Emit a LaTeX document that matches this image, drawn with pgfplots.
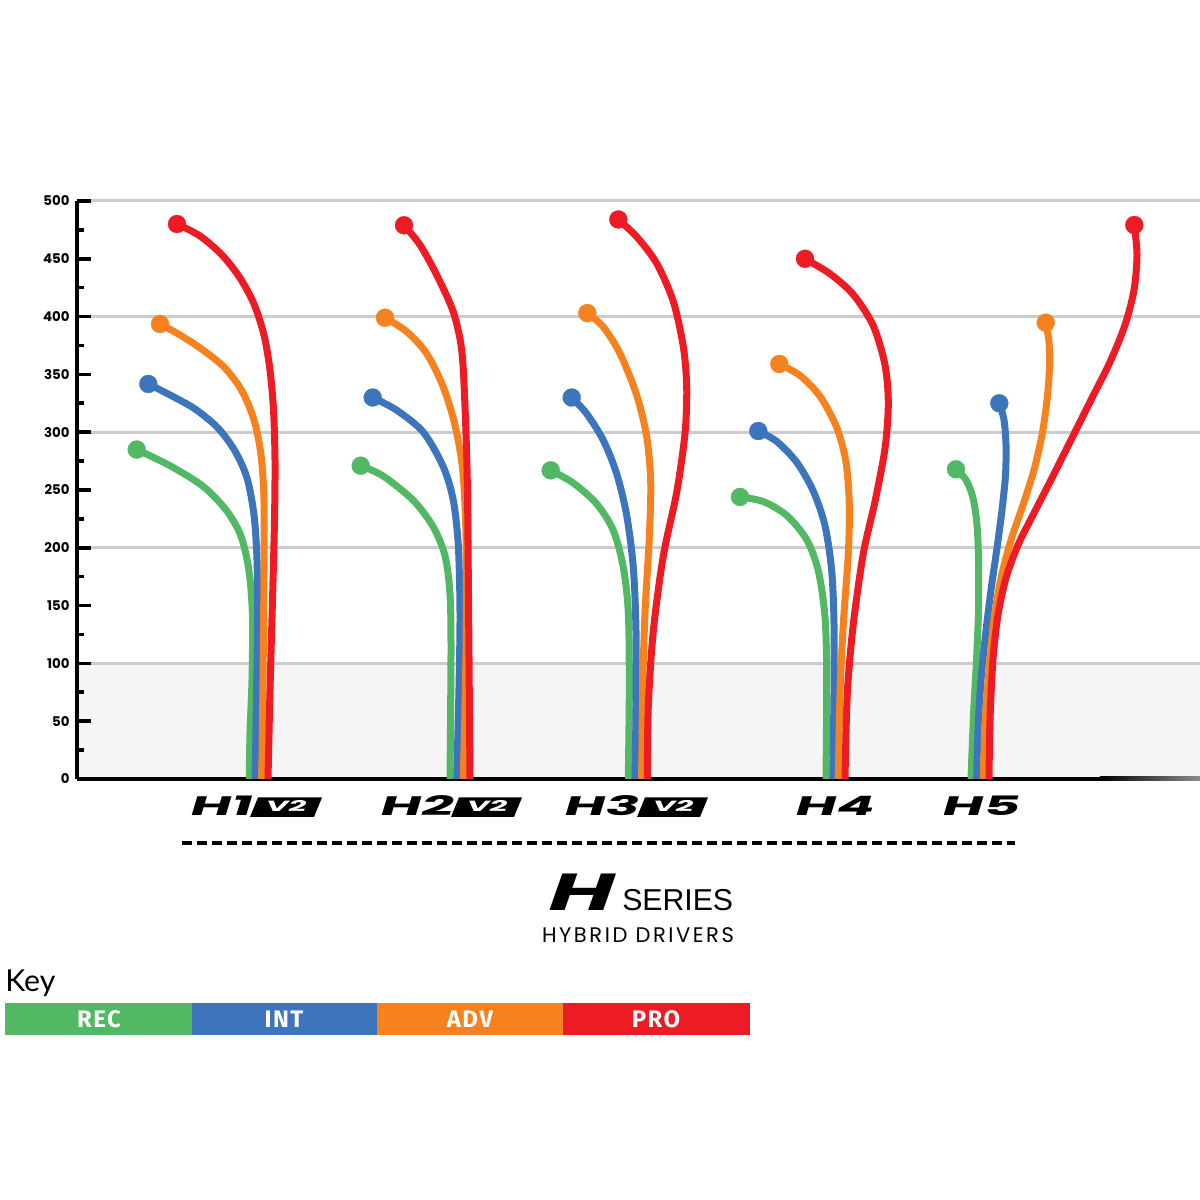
\documentclass[border=0pt]{standalone}
\usepackage{pgfplots}
\pgfplotsset{compat=1.18}
\usepackage{fontspec}
\setmainfont{Liberation Sans}
\newfontfamily\numfont{Poppins}
\newfontfamily\hfont{Poppins}[FakeSlant=0.3, FakeStretch=2.1]
\newfontfamily\bighfont{Poppins}[FakeSlant=0.35, FakeStretch=1.7]
\newfontfamily\keyfont{Fira Sans}
\newfontfamily\titlefont{Lato}

\definecolor{rec}{HTML}{52B864}
\definecolor{int}{HTML}{3D75BC}
\definecolor{adv}{HTML}{F5821F}
\definecolor{pro}{HTML}{ED1C24}

\begin{document}
\begin{tikzpicture}
\begin{axis}[
  at={(19.25mm,105.25mm)}, anchor=south west,
  scale only axis, width=280.75mm, height=144.5mm,
  xmin=77, xmax=1200, ymin=0, ymax=500,
  set layers,
  axis x line*=bottom, axis y line*=left,
  axis line style={black, line width=1mm},
  xtick=\empty,
  ytick={0,100,...,500},
  extra y ticks={50,150,...,450},
  extra y tick style={grid=none},
  minor ytick={25,75,...,475},
  ymajorgrids,
  grid style={black!20, line width=0.75mm},
  tick align=inside,
  major tick length=3.5mm, minor tick length=1.8mm,
  tick style={black, line width=0.9mm},
  /pgf/number format/assume math mode=true,
  yticklabel style={font=\numfont\bfseries\fontsize{9.5}{9.5}\selectfont, inner sep=0pt, xshift=-1.8mm},
  every axis plot/.append style={line width=1.75mm, smooth, line cap=round,
    mark=*, mark indices={1}, mark size=2.25mm, mark options={line width=0.2pt}},
]
\begin{pgfonlayer}{axis background}
  \fill[black!4] (axis cs:77,0) rectangle (axis cs:1200,100);
\end{pgfonlayer}

% H1 V2
\addplot[rec] coordinates {(136.7,285)(170,271)(203.3,253)(226.7,232)(241,210)(249,179.9)(252.5,140.1)(252,86)(250,40)(249.3,0)};
\addplot[int] coordinates {(148.3,341.7)(170,332.2)(195,320.1)(218,303.6)(235,283.7)(247,260.4)(254,228.4)(257,189.4)(257.5,137.5)(256.5,68.3)(255,0)};
\addplot[adv] coordinates {(160,393.6)(180,384.1)(203,371.1)(225,355.5)(242,335.6)(254,310.6)(261,280.3)(264,241.3)(264,180.8)(263,85.6)(261.7,0)};
\addplot[pro] coordinates {(177,480.1)(200,469.7)(222,453.3)(240,433.4)(254,410.9)(264,384.1)(270,353.8)(273.5,319.2)(275,275.9)(274.5,224)(272.5,154.8)(270,77)(268,0)};
% H2 V2
\addplot[rec] coordinates {(360.7,271)(383.3,262)(413.3,241)(433.3,218)(445,193)(450,160)(451,111)(450,0)};
\addplot[int] coordinates {(372.7,330)(396.7,319)(423.3,300)(443.3,270)(453.3,241)(458.3,202)(460,144)(459,79)(456.7,0)};
\addplot[adv] coordinates {(385,399)(406.7,387)(426.7,368)(443.3,339)(455,306)(462.7,267)(466,209)(466,111)(463.3,0)};
\addplot[pro] coordinates {(404,479)(420,462)(436.7,436)(453.3,404)(461.7,371)(465,322)(467.3,257)(468.3,176)(470,0)};
% H3 V2
\addplot[rec] coordinates {(550.7,267)(573.3,256)(596.7,238)(613.3,215)(623.3,183)(628.3,144)(629.3,79)(628.3,0)};
\addplot[int] coordinates {(571.7,330)(586.7,316)(603.3,293)(616.7,264)(626.7,228)(633.3,183)(636,128)(636,63)(635,0)};
\addplot[adv] coordinates {(587.3,403)(603.3,391)(620,368)(636.7,332)(646.7,296)(650.7,257)(649.3,209)(645,144)(642.7,79)(641.7,0)};
\addplot[pro] coordinates {(618.3,484)(636.7,469)(656.7,446)(673.3,413)(683.3,374)(686.7,339)(685,299)(676.7,248)(663.3,193)(653.3,128)(648.3,63)(647.3,0)};
% H4
\addplot[rec] coordinates {(740,244)(763.3,240)(786.7,228)(806.7,207)(818.3,180)(825,140)(826.7,89)(826,0)};
\addplot[int] coordinates {(758.3,301)(776.7,292)(796.7,274)(813.3,249)(825,219)(831.7,180)(834,134)(834,74)(832.7,0)};
\addplot[adv] coordinates {(779.3,359)(800,349)(820,331)(836.7,304)(846,274)(849.3,237)(848.3,195)(843.3,134)(840,74)(838.3,0)};
\addplot[pro] coordinates {(805,450)(830,437)(853.3,419)(873.3,392)(885,358)(888.3,325)(885,286)(875,240)(863.3,195)(853.3,134)(847.3,74)(845,0)};
% H5
\addplot[rec] coordinates {(956,267.9)(966,258.7)(973,243.1)(977,219.7)(978.5,189.4)(978.5,146.2)(976.5,102.9)(973.5,55.4)(971,0)};
\addplot[int] coordinates {(999.3,325)(1004,310.6)(1006,288.9)(1005.5,263)(1002,232.7)(997,199.8)(991,163.5)(985.5,124.6)(981,85.6)(978,42.4)(976.7,0)};
\addplot[adv] coordinates {(1045.7,394.7)(1049,378)(1049.5,355.5)(1047,327.9)(1042,297.6)(1034,267.3)(1023,237)(1011,206.7)(1001,173.9)(994,137.5)(989,94.3)(985,46.7)(983.3,0)};
\addplot[pro] coordinates {(1134.3,479.2)(1137,453.3)(1134,423)(1125,392.7)(1110,360.7)(1091,327.9)(1071,293.3)(1052,260.4)(1034,230.1)(1018,202.4)(1006,173.9)(998,141.9)(993,103.8)(990,51)(989,0)};
\end{axis}

% overlay in image pixels, y downward
\begin{scope}[shift={(0,300mm)}, x=0.25mm, y=-0.25mm]
  \shade[left color=black, right color=black!45] (1100,777) rectangle (1200,781);

  \tikzset{hl/.style={inner sep=0pt, anchor=base west, font=\hfont\bfseries\fontsize{19}{19}\selectfont},
           v2/.style={inner sep=0pt, anchor=base, text=white, font=\hfont\bfseries\fontsize{10.5}{10.5}\selectfont}}
  % H1 V2
  \node[hl] at (188,816) {H1};
  \fill (258,797.5) -- (322,797.5) -- (314,817) -- (250,817) -- cycle;
  \node[v2] at (285,812) {V2};
  % H2 V2
  \node[hl] at (378,816) {H2};
  \fill (459,797.5) -- (522,797.5) -- (514,817) -- (451,817) -- cycle;
  \node[v2] at (486,812) {V2};
  % H3 V2
  \node[hl] at (562,816) {H3};
  \fill (645,797.5) -- (708,797.5) -- (700,817) -- (637,817) -- cycle;
  \node[v2] at (672,812) {V2};
  \node[hl] at (793,816) {H4};
  \node[hl] at (940,816) {H5};

  \draw[line width=1mm, dash pattern=on 2.5mm off 1.25mm] (182,843) -- (1015,843);

  \node[inner sep=0pt, anchor=base east, font=\bighfont\bfseries\fontsize{37}{37}\selectfont] at (609,911) {H};
  \node[inner sep=0pt, anchor=base west, font=\fontsize{21.5}{21.5}\selectfont] at (622,911) {SERIES};
  \node[inner sep=0pt, anchor=base, font=\numfont\fontsize{15}{15}\selectfont\addfontfeatures{LetterSpace=12}] at (638,943) {HYBRID DRIVERS};

  \node[inner sep=0pt, anchor=base west, font=\titlefont\fontsize{21.5}{21.5}\selectfont] at (5,992) {Key};
  \fill[rec] (5,1003) rectangle (192,1035);
  \fill[int] (192,1003) rectangle (377,1035);
  \fill[adv] (377,1003) rectangle (563,1035);
  \fill[pro] (563,1003) rectangle (750,1035);
  \tikzset{kl/.style={inner sep=0pt, anchor=base, text=white, font=\keyfont\bfseries\fontsize{17}{17}\selectfont\addfontfeatures{LetterSpace=6}}}
  \node[kl] at (99,1028) {REC};
  \node[kl] at (284,1028) {INT};
  \node[kl] at (470,1028) {ADV};
  \node[kl] at (656,1028) {PRO};
\end{scope}
\pgfresetboundingbox
\path[use as bounding box] (0,0) rectangle (300mm,300mm);
\end{tikzpicture}
\end{document}
